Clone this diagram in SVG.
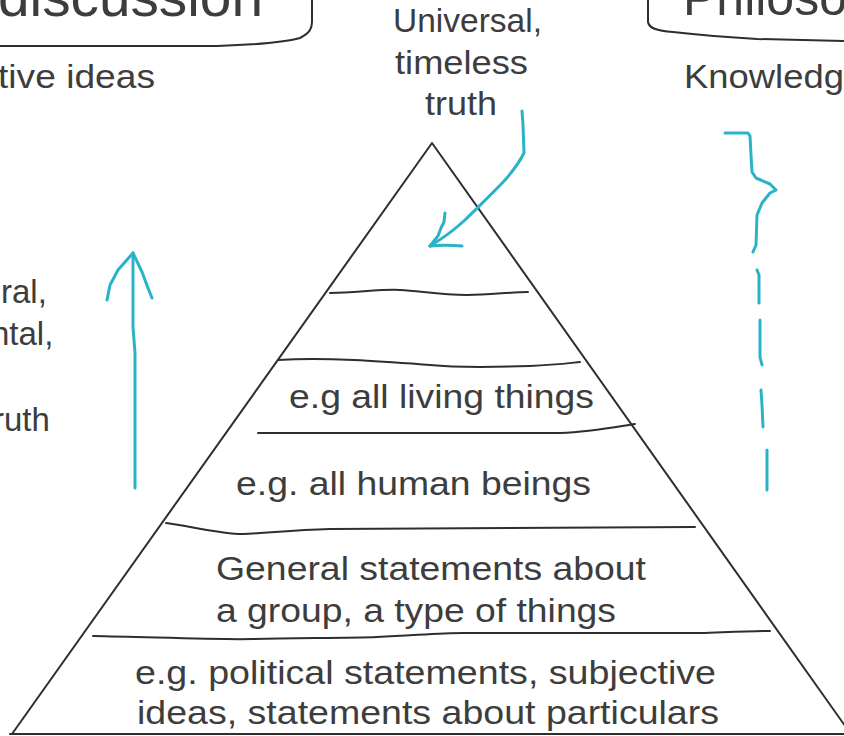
<svg xmlns="http://www.w3.org/2000/svg" width="844" height="736" viewBox="0 0 844 736">
<defs>
<style>
.t{font-family:"Liberation Sans",Arial,sans-serif;fill:#3d3d3d;}
.big{font-size:56px;}
.lbl{font-size:33px;}
.ink{fill:none;stroke:#2e2e2e;stroke-width:2;stroke-linecap:round;stroke-linejoin:round;}
.cy{fill:none;stroke:#2ab3c6;stroke-width:3;stroke-linecap:round;stroke-linejoin:round;}
</style>
</defs>
<rect width="844" height="736" fill="#ffffff"/>

<g id="box-discussion">
<path class="ink" d="M -5 46 L 217 46 C 250 45, 285 42, 300 38 C 310 33, 312 28, 312 22 L 312 -2"/>
<text class="t big" x="-2" y="16" textLength="265" lengthAdjust="spacingAndGlyphs">discussion</text>
<text class="t lbl" x="-2" y="88" textLength="157" lengthAdjust="spacingAndGlyphs">tive ideas</text>
</g>

<g id="box-philosophy">
<path class="ink" d="M 648 -2 L 648 22 C 649 28, 656 31, 673 32 C 700 35, 740 38, 757 39 L 846 41"/>
<text class="t" x="683" y="15" font-size="50">Philoso</text>
<text class="t lbl" x="684" y="88" textLength="160" lengthAdjust="spacingAndGlyphs">Knowledg</text>
</g>

<g id="left-text">
<text class="t lbl" x="1" y="303">ral,</text>
<text class="t lbl" x="-9" y="345">ntal,</text>
<text class="t lbl" x="-7" y="431">ruth</text>
</g>

<g id="top-label">
<text class="t lbl" x="393" y="32" textLength="149" lengthAdjust="spacingAndGlyphs">Universal,</text>
<text class="t lbl" x="395" y="74" textLength="133" lengthAdjust="spacingAndGlyphs">timeless</text>
<text class="t lbl" x="425" y="115" textLength="72" lengthAdjust="spacingAndGlyphs">truth</text>
</g>

<g id="pyramid">
<path class="ink" d="M 12 734 L 432 143 L 848 730"/>
<path class="ink" d="M 10 734 L 846 734"/>
<path class="ink" d="M 330 293 C 360 292, 385 289, 400 290 C 420 291, 440 295, 467 295 C 490 295, 510 292, 528 292"/>
<path class="ink" d="M 278 360 C 330 357, 390 362, 430 365 C 460 368, 500 367, 530 366 C 555 365, 570 363, 580 362"/>
<path class="ink" d="M 258 433 L 560 433 C 590 432, 610 428, 635 424"/>
<path class="ink" d="M 166 523 C 190 526, 220 534, 243 534 C 270 533, 290 530, 330 529 C 420 528, 550 527, 695 527"/>
<path class="ink" d="M 93 636 C 150 637, 220 640, 253 639 C 300 638, 350 638, 377 637 C 420 635, 440 633, 463 633 L 700 633 C 730 632, 750 631, 770 631"/>
</g>

<g id="pyramid-labels">
<text class="t lbl" x="289" y="408" textLength="305" lengthAdjust="spacingAndGlyphs">e.g all living things</text>
<text class="t lbl" x="236" y="495" textLength="355" lengthAdjust="spacingAndGlyphs">e.g. all human beings</text>
<text class="t lbl" x="216" y="580" textLength="430" lengthAdjust="spacingAndGlyphs">General statements about</text>
<text class="t lbl" x="216" y="622" textLength="400" lengthAdjust="spacingAndGlyphs">a group, a type of things</text>
<text class="t lbl" x="135" y="684" textLength="581" lengthAdjust="spacingAndGlyphs">e.g. political statements, subjective</text>
<text class="t lbl" x="137" y="724" textLength="582" lengthAdjust="spacingAndGlyphs">ideas, statements about particulars</text>
</g>

<g id="connectors">
<path class="cy" d="M 522 111 L 523 125 L 524 153 C 518 165, 512 172, 505 180 C 492 194, 478 207, 465 220 C 452 232, 440 240, 430 246"/>
<path class="cy" d="M 430 246 L 438 236 L 441 228 L 444 222 L 445 213"/>
<path class="cy" d="M 430 246 C 440 245, 452 245, 462 246"/>
<path class="cy" d="M 135 488 L 135 353 L 133 327 L 133 253"/>
<path class="cy" d="M 133 253 L 118 270 L 110 285 L 107 300"/>
<path class="cy" d="M 133 253 L 142 272 L 148 288 L 152 298"/>
<path class="cy" d="M 725 133 L 748 133 L 750 136 L 751 155 L 752 172 L 756 178 L 770 184 L 776 190 L 770 193 L 762 203 L 757 215 L 756 245 L 753 252"/>
<path class="cy" d="M 757 270 L 759 275 L 759 303"/>
<path class="cy" d="M 760 320 L 760 357 L 762 365"/>
<path class="cy" d="M 761 390 L 762 405 L 763 427"/>
<path class="cy" d="M 767 450 L 767 490"/>
</g>
</svg>
